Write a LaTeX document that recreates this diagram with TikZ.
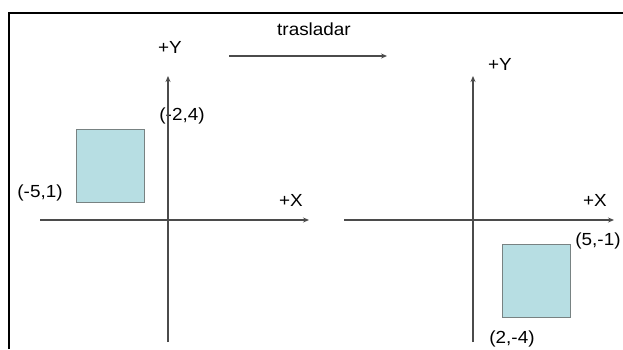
\documentclass[tikz,border=0pt]{standalone}
\usepackage{fontspec}
\setmainfont{Liberation Sans}[FakeStretch=1.08]
\usepackage{tikz}
\usetikzlibrary{arrows.meta}

\definecolor{boxfill}{RGB}{183,222,227}
\definecolor{boxline}{RGB}{120,130,130}
\definecolor{axisline}{RGB}{75,75,75}

\begin{document}
\begin{tikzpicture}[>={Stealth[length=6pt,width=5pt]}, x=1pt, y=-1pt, font=\fontsize{17.5}{20}\selectfont]
    \tikzstyle{axis} = [->, line width=1.3pt, draw=axisline]
    \tikzstyle{square} = [draw=boxline, line width=1pt, fill=boxfill,
	minimum width=68pt, minimum height=73pt, inner sep=0pt]
	\useasboundingbox (0,0) rectangle (623,349);
	\draw[line width=1.8pt] (9,349) -- (9,13) -- (623,13);
	% original square
	\begin{scope}
		\path
			coordinate (xa) at (40,220)
			coordinate (xb) at (309,220)
			coordinate (ya) at (168,342)
			coordinate (yb) at (168,76)
			node[square] (sq) at (110,165.5) {}
			node (ly) at (170,47) {+Y}
			node (lx) at (291,200) {+X}
			node (c1) at (182,116) {(-2,4)}
			node (c2) at (40,193) {(-5,1)};
		\draw[axis] (xa) -- (xb);
		\draw[axis] (ya) -- (yb);
	\end{scope}
	% translated square
	\begin{scope}
		\path
			coordinate (xa) at (344,220)
			coordinate (xb) at (614,220)
			coordinate (ya) at (473,342)
			coordinate (yb) at (473,76)
			node[square] (sq) at (536,281) {}
			node (ly) at (500,64) {+Y}
			node (lx) at (595,200) {+X}
			node (c1) at (598,241) {(5,-1)}
			node (c2) at (512,339) {(2,-4)};
		\draw[axis] (xa) -- (xb);
		\draw[axis] (ya) -- (yb);
	\end{scope}
	\path
		coordinate (ta) at (229,56)
		coordinate (tb) at (387,56)
		node (tl) at (314,29) {trasladar};
	\draw[axis] (ta) -- (tb);
\end{tikzpicture}
\end{document}
